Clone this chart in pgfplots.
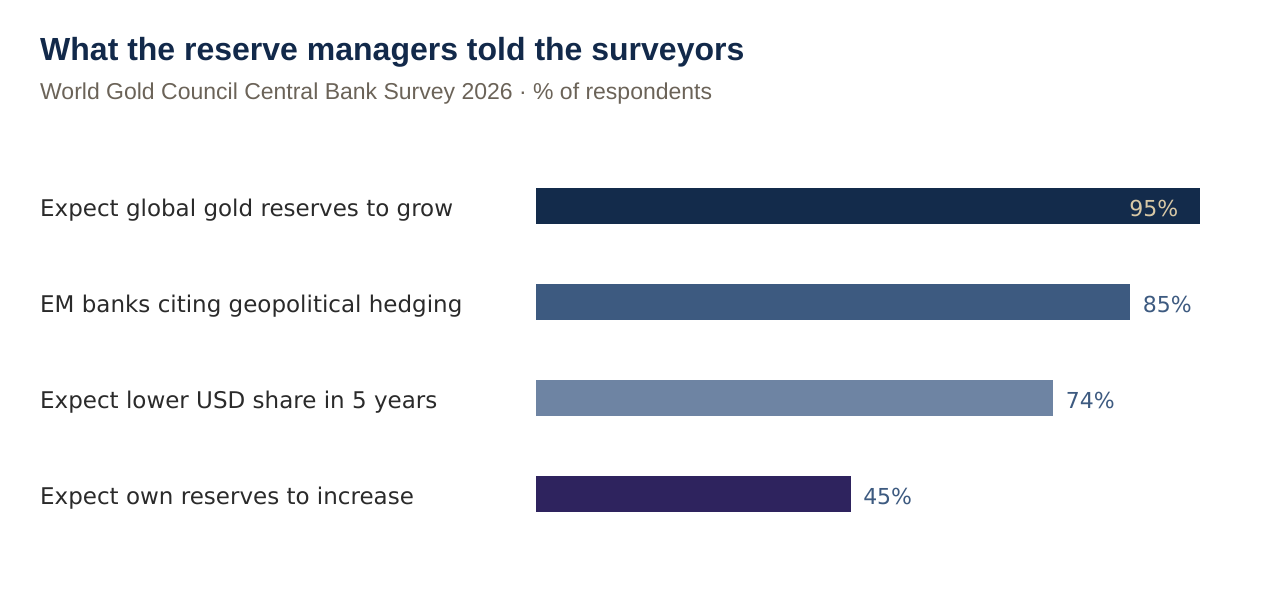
\documentclass[border=0pt]{standalone}
\usepackage{fontspec}
\setmainfont{DejaVu Sans}
\newfontfamily\lib{Liberation Sans}
\usepackage{pgfplots}
\pgfplotsset{compat=1.18}
\definecolor{titlec}{HTML}{12294A}
\definecolor{subc}{HTML}{6B6358}
\definecolor{labc}{HTML}{2A2A2A}
\definecolor{barA}{HTML}{132B4B}
\definecolor{barB}{HTML}{3D5A80}
\definecolor{barC}{HTML}{6E84A3}
\definecolor{barD}{HTML}{2E235E}
\definecolor{beige}{HTML}{D8C8A6}
\begin{document}
\begin{tikzpicture}[x=1pt,y=1pt]
\useasboundingbox (0,0) rectangle (1280,596);
\node[anchor=base west, inner sep=0, text=titlec, font=\lib\bfseries\fontsize{32}{36}\selectfont] at (40,535.5) {What the reserve managers told the surveyors};
\node[anchor=base west, inner sep=0, text=subc, font=\lib\fontsize{23}{27}\selectfont] at (40,496) {World Gold Council Central Bank Survey 2026 · \% of respondents};
\begin{axis}[at={(536pt,54pt)}, anchor=south west, scale only axis,
  width=699pt, height=384pt, xmin=0, xmax=100, ymin=-0.5, ymax=3.5,
  axis line style={draw=none}, tick style={draw=none}, major tick length=0pt,
  xtick=\empty, ytick={0,1,2,3},
  yticklabels={Expect own reserves to increase, Expect lower USD share in 5 years, EM banks citing geopolitical hedging, Expect global gold reserves to grow},
  yticklabel style={anchor=base west, inner sep=0pt, xshift=-496pt, yshift=-10.2pt, text=labc, font=\fontsize{23}{27}\selectfont},
  clip=false]
\addplot[xbar, bar shift=0pt, bar width=36pt, fill=barD, draw=none] coordinates {(45,0)};
\addplot[xbar, bar shift=0pt, bar width=36pt, fill=barC, draw=none] coordinates {(74,1)};
\addplot[xbar, bar shift=0pt, bar width=36pt, fill=barB, draw=none] coordinates {(85,2)};
\addplot[xbar, bar shift=0pt, bar width=36pt, fill=barA, draw=none] coordinates {(95,3)};
\node[anchor=base west, inner sep=0pt, xshift=12.5pt, yshift=-10.4pt, text=barB, font=\fontsize{22}{26}\selectfont] at (axis cs:45,0) {45\%};
\node[anchor=base west, inner sep=0pt, xshift=12.5pt, yshift=-10.4pt, text=barB, font=\fontsize{22}{26}\selectfont] at (axis cs:74,1) {74\%};
\node[anchor=base west, inner sep=0pt, xshift=12.5pt, yshift=-10.4pt, text=barB, font=\fontsize{22}{26}\selectfont] at (axis cs:85,2) {85\%};
\node[anchor=base east, inner sep=0pt, xshift=-21.5pt, yshift=-10.4pt, text=beige, font=\fontsize{22}{26}\selectfont] at (axis cs:95,3) {95\%};
\end{axis}
\end{tikzpicture}
\end{document}
